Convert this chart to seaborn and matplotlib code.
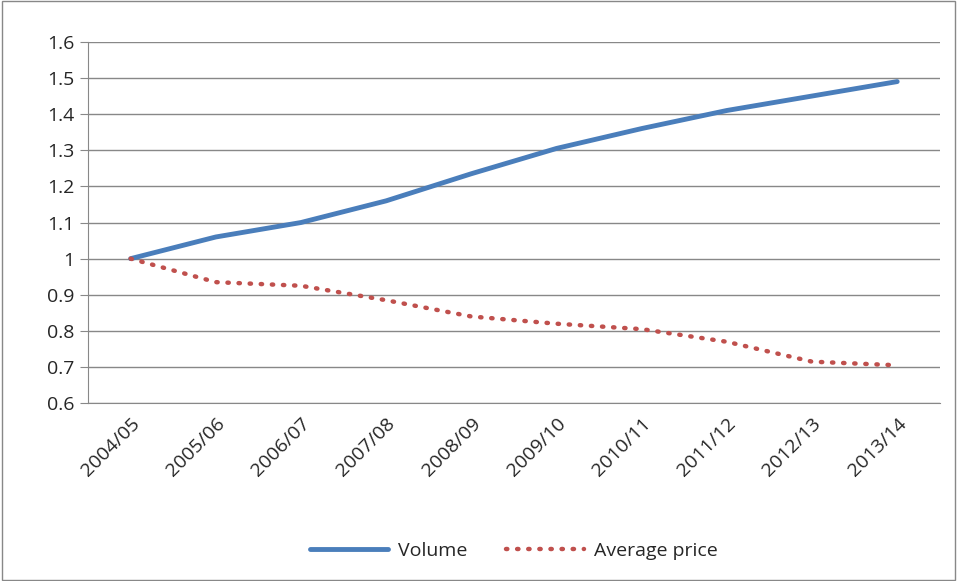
import numpy as np
import matplotlib
matplotlib.use("Agg")
import matplotlib.pyplot as plt
import seaborn as sns
import pandas as pd

years = ["2004/05", "2005/06", "2006/07", "2007/08", "2008/09",
         "2009/10", "2010/11", "2011/12", "2012/13", "2013/14"]
volume = [1.0, 1.06, 1.10, 1.16, 1.235, 1.305, 1.36, 1.41, 1.45, 1.49]
avg_price = [1.0, 0.935, 0.925, 0.885, 0.84, 0.82, 0.805, 0.77, 0.715, 0.705]

sns.set_style("white")
plt.rcParams['font.family'] = ['Open Sans', 'DejaVu Sans']

df = pd.DataFrame({"x": np.arange(len(years)), "Volume": volume, "Average price": avg_price})

fig = plt.figure(figsize=(9.57, 5.81), dpi=100)
ax = fig.add_axes([0.092, 0.306, 0.890, 0.622])
sns.lineplot(data=df, x="x", y="Volume", ax=ax, color="#4a7ebb", lw=3.5, label="Volume")
sns.lineplot(data=df, x="x", y="Average price", ax=ax, color="#c0504d", lw=3.2,
             linestyle=(0, (0.3, 2.2)), dash_capstyle="round", label="Average price")

ax.set_xlim(-0.5, len(years) - 0.5)
ax.set_ylim(0.6, 1.6)
ax.set_yticks(np.arange(0.6, 1.61, 0.1))
ax.set_yticklabels(["0.6", "0.7", "0.8", "0.9", "1", "1.1", "1.2", "1.3", "1.4", "1.5", "1.6"], fontsize=14)
ax.yaxis.grid(True, color="#888888", lw=1)
ax.set_xticks(np.arange(len(years)))
ax.set_xticklabels(years, rotation=45, ha="right", rotation_mode="anchor", fontsize=14)
ax.set_xticks(np.arange(-0.5, len(years)), minor=True)
ax.tick_params(axis="x", which="major", length=0, pad=8)
ax.tick_params(axis="x", which="minor", length=6, color="#888888", direction="out")
ax.tick_params(axis="y", length=6, color="#888888", direction="out", left=True, pad=4)
for s in ["top", "right"]:
    ax.spines[s].set_visible(False)
for s in ["left", "bottom"]:
    ax.spines[s].set_color("#888888")
ax.set_xlabel("")
ax.set_ylabel("")
ax.legend(loc="upper center", bbox_to_anchor=(0.5, -0.335), ncol=2, frameon=False,
          fontsize=14, handlelength=4, columnspacing=2, handletextpad=0.5)

fig.patches.append(plt.Rectangle((0.002, 0.002), 0.996, 0.996, transform=fig.transFigure,
                                 fill=False, edgecolor="#888888", lw=1))
fig.savefig("out.png", dpi=100)
